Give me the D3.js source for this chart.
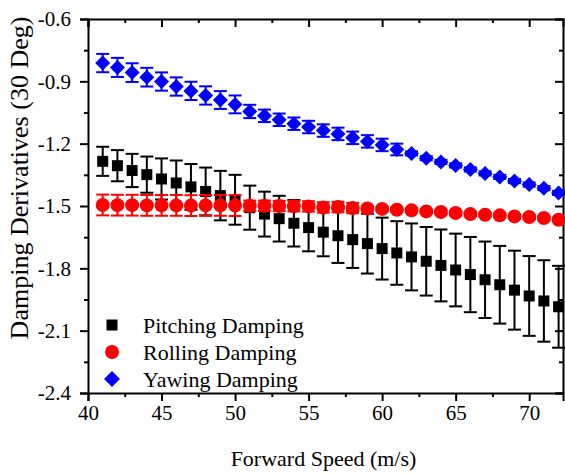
<!DOCTYPE html>
<html>
<head>
<meta charset="utf-8">
<script src="https://cdn.jsdelivr.net/npm/d3@7/dist/d3.min.js"></script>
<style>
  html, body { margin: 0; padding: 0; background: #fff; }
  svg { display: block; }
  text { font-family: "Liberation Serif", "Times New Roman", serif; fill: #000; }
</style>
</head>
<body>
<svg id="chart" width="565" height="475"></svg>
<script>
// Forward speed (m/s)
const speeds = [41,42,43,44,45,46,47,48,49,50,51,52,53,54,55,56,57,58,59,60,61,62,63,64,65,66,67,68,69,70,71,72];

// Pitching damping derivative and its error
const pitching = [-1.285,-1.306,-1.329,-1.349,-1.370,-1.389,-1.408,-1.430,-1.450,-1.470,
  -1.508,-1.539,-1.561,-1.583,-1.604,-1.626,-1.643,-1.662,-1.681,-1.705,
  -1.726,-1.745,-1.766,-1.786,-1.808,-1.830,-1.855,-1.879,-1.905,-1.933,-1.957,-1.985];
const pitchingErr = [0.070,0.075,0.080,0.087,0.099,0.108,0.110,0.115,0.119,0.120,
  0.106,0.108,0.110,0.112,0.114,0.116,0.131,0.136,0.144,0.149,
  0.153,0.161,0.165,0.173,0.175,0.181,0.184,0.187,0.190,0.192,0.196,0.197];

// Rolling damping derivative and its error
const rolling = [-1.495,-1.496,-1.496,-1.497,-1.497,-1.497,-1.498,-1.497,-1.497,-1.498,
  -1.499,-1.499,-1.500,-1.501,-1.502,-1.507,-1.505,-1.510,-1.512,-1.514,
  -1.518,-1.521,-1.526,-1.529,-1.534,-1.539,-1.542,-1.545,-1.550,-1.553,-1.558,-1.566];
const rollingErr = [0.050,0.050,0.050,0.050,0.050,0.050,0.050,0.050,0.050,0.050,
  0.025,0.025,0.025,0.025,0.025,0.025,0.025,0.025,0.010,0.010,
  0.010,0.010,0.010,0.010,0.010,0.010,0.010,0.010,0.010,0.010,0.010,0.010];

// Yawing damping derivative and its error
const yawing = [-0.812,-0.833,-0.858,-0.880,-0.901,-0.925,-0.946,-0.968,-0.990,-1.011,
  -1.045,-1.066,-1.085,-1.104,-1.120,-1.137,-1.153,-1.172,-1.189,-1.206,
  -1.228,-1.247,-1.270,-1.288,-1.305,-1.324,-1.343,-1.360,-1.380,-1.397,-1.414,-1.437];
const yawingErr = [0.044,0.046,0.045,0.045,0.044,0.044,0.044,0.044,0.043,0.043,
  0.032,0.030,0.030,0.030,0.030,0.030,0.030,0.030,0.030,0.030,
  0.028,0.010,0.010,0.010,0.010,0.010,0.010,0.010,0.010,0.010,0.010,0.010];

const xTicks = [40,45,50,55,60,65,70];
const xMinorTicks = [42.5,47.5,52.5,57.5,62.5,67.5];
const yTicks = [-2.4,-2.1,-1.8,-1.5,-1.2,-0.9,-0.6];
const yMinorTicks = [-2.25,-1.95,-1.65,-1.35,-1.05,-0.75];

const seriesNames = ["Pitching Damping", "Rolling Damping", "Yawing Damping"];
const seriesColors = ["#000000", "#ff0000", "#0000ff"];

const W = 565, H = 475;
const m = { left: 88, right: 2, top: 19, bottom: 82 };
const svg = d3.select("#chart");

const x = d3.scaleLinear().domain([40, 72.3]).range([m.left, W - m.right]);
const y = d3.scaleLinear().domain([-2.4, -0.6]).range([H - m.bottom, m.top]);

const fmtY = d => d.toFixed(1);

function styleAxis(g) {
  g.selectAll("path").attr("stroke", "#000").attr("stroke-width", 2);
  g.selectAll("line").attr("stroke", "#000").attr("stroke-width", 2);
  g.selectAll("text").style("font-family", '"Liberation Serif", serif').style("font-size", "21px").attr("fill", "#000");
}

// Bottom axis (major + minor)
svg.append("g").attr("transform", `translate(0,${y(-2.4)})`)
  .call(d3.axisBottom(x).tickValues(xTicks).tickSize(8).tickPadding(4).tickFormat(d3.format("d")))
  .call(styleAxis);
svg.append("g").attr("transform", `translate(0,${y(-2.4)})`)
  .call(d3.axisBottom(x).tickValues(xMinorTicks).tickSize(4).tickFormat(""))
  .call(styleAxis).select("path").remove();

// Top axis, ticks inward
svg.append("g").attr("transform", `translate(0,${y(-0.6)})`)
  .call(d3.axisTop(x).tickValues(xTicks).tickSize(-8).tickFormat(""))
  .call(styleAxis);
svg.append("g").attr("transform", `translate(0,${y(-0.6)})`)
  .call(d3.axisTop(x).tickValues(xMinorTicks).tickSize(-4).tickFormat(""))
  .call(styleAxis).select("path").remove();

// Left axis
svg.append("g").attr("transform", `translate(${x(40)},0)`)
  .call(d3.axisLeft(y).tickValues(yTicks).tickSize(8).tickPadding(9).tickFormat(fmtY))
  .call(styleAxis);
svg.append("g").attr("transform", `translate(${x(40)},0)`)
  .call(d3.axisLeft(y).tickValues(yMinorTicks).tickSize(4).tickFormat(""))
  .call(styleAxis).select("path").remove();

// Right axis, ticks inward
svg.append("g").attr("transform", `translate(${x(72.3)},0)`)
  .call(d3.axisRight(y).tickValues(yTicks).tickSize(-8).tickFormat(""))
  .call(styleAxis);
svg.append("g").attr("transform", `translate(${x(72.3)},0)`)
  .call(d3.axisRight(y).tickValues(yMinorTicks).tickSize(-4).tickFormat(""))
  .call(styleAxis).select("path").remove();

// Axis titles
svg.append("text")
  .attr("x", (x(40) + x(72.3)) / 2 - 2).attr("y", 466)
  .attr("text-anchor", "middle").style("font-size", "22px")
  .text("Forward Speed (m/s)");
svg.append("text")
  .attr("transform", `translate(28,${178}) rotate(-90)`)
  .attr("text-anchor", "middle").style("font-size", "26px")
  .text("Damping Derivatives (30 Deg)");

// Marker shapes
const sym = [
  d3.symbol().type(d3.symbolSquare).size(11 * 11),
  d3.symbol().type(d3.symbolCircle).size(Math.PI * 7 * 7),
  null
];
function diamondPath(r) { return `M0,${-r}L${r},0L0,${r}L${-r},0Z`; }

const series = [
  { values: pitching, errs: pitchingErr },
  { values: rolling, errs: rollingErr },
  { values: yawing, errs: yawingErr }
];

const plot = svg.append("g");
const capHalf = 6.5;
series.forEach((s, si) => {
  const color = seriesColors[si];
  const g = plot.append("g");
  const pts = speeds.map((sp, i) => ({ sp, v: s.values[i], e: s.errs[i] }));
  const eb = g.selectAll("g.eb").data(pts).join("g").attr("class", "eb");
  eb.append("line")
    .attr("x1", d => x(d.sp)).attr("x2", d => x(d.sp))
    .attr("y1", d => y(d.v + d.e)).attr("y2", d => y(d.v - d.e))
    .attr("stroke", color).attr("stroke-width", 2);
  [1, -1].forEach(sgn => {
    eb.append("line")
      .attr("x1", d => x(d.sp) - capHalf).attr("x2", d => x(d.sp) + capHalf)
      .attr("y1", d => y(d.v + sgn * d.e)).attr("y2", d => y(d.v + sgn * d.e))
      .attr("stroke", color).attr("stroke-width", 2);
  });
  g.selectAll("path.mk").data(pts).join("path").attr("class", "mk")
    .attr("transform", d => `translate(${x(d.sp)},${y(d.v)})`)
    .attr("d", si === 2 ? diamondPath(7.5) : sym[si]())
    .attr("fill", color);
});

// Legend
const leg = svg.append("g");
seriesNames.forEach((name, i) => {
  const cy = 325 + i * 27;
  leg.append("path")
    .attr("transform", `translate(112,${cy})`)
    .attr("d", i === 2 ? diamondPath(8) : sym[i]())
    .attr("fill", seriesColors[i]);
  leg.append("text").attr("x", 143).attr("y", cy + 7.5)
    .style("font-size", "22px").text(name);
});
</script>
</body>
</html>
